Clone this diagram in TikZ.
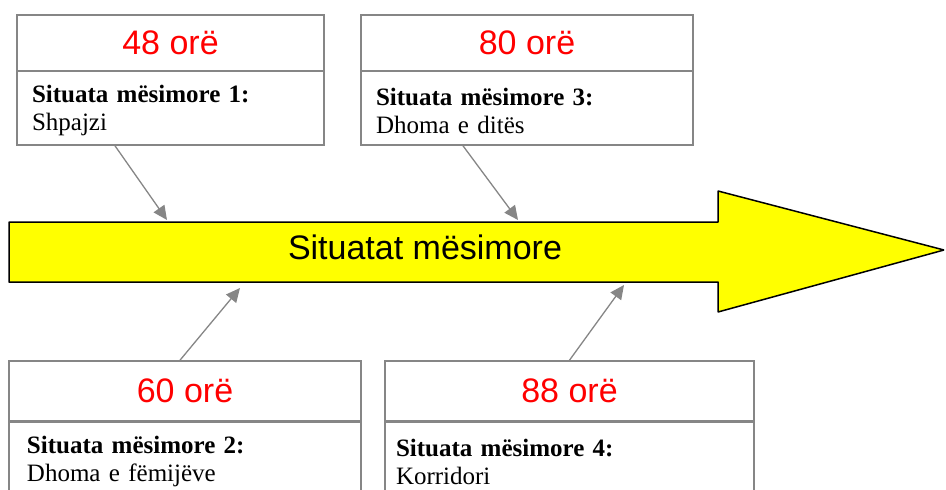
\documentclass[tikz,border=0pt]{standalone}
\usepackage{fontspec}
\setmainfont{Liberation Serif}
\newfontfamily\arialfont{Liberation Sans}
\usetikzlibrary{arrows.meta}
\definecolor{rahmen}{RGB}{134,134,134}
\definecolor{pfeilgelb}{RGB}{255,255,0}

\begin{document}
\begin{tikzpicture}[x=1pt,y=-1pt,
  orebox/.style={draw=rahmen,line width=1.6pt,minimum width=#1,text=red,inner sep=0pt,
    font=\arialfont\fontsize{34}{40}\selectfont},
  sitbox/.style={draw=rahmen,line width=1.6pt,text width=#1,minimum height=74pt,align=left,
    inner xsep=15pt,inner ysep=0pt,font=\fontsize{25}{28}\selectfont,
    execute at begin node=\rule{0pt}{23pt}},
  verbind/.style={draw=rahmen,line width=1.3pt,-{Triangle[length=14pt,width=13pt]}}]
 \useasboundingbox (0,0) rectangle (946,490); %画面
 \clip (0,0) rectangle (946,490);

 % 大きい矢印
 \draw[line width=1.5pt,line join=bevel,fill=pfeilgelb]
   (9,222) -- (718,222) -- (718,191) -- (944,250) -- (718,312) -- (718,282) -- (9,282) -- cycle;
 \node[font=\arialfont\fontsize{34}{40}\selectfont] (titel) at (425,247) {Situatat mësimore};
 \coordinate (e1) at (167,220); %矢印上1
 \coordinate (e3) at (518,220); %矢印上3
 \coordinate (e2) at (240,288); %矢印下2
 \coordinate (e4) at (624,285); %矢印下4

 % 上の箱
 \node[orebox=307pt,minimum height=56pt] (ore1) at (170.5,43) {48 orë};
 \node[sitbox=277pt] (sit1) at (170.5,108) {\textbf{Situata mësimore 1:}\\Shpajzi};
 \node[orebox=332pt,minimum height=56pt] (ore3) at (527,43) {80 orë};
 \node[sitbox=302pt] (sit3) at (527,108) {\textbf{Situata mësimore 3:}\\Dhoma e ditës};

 % 下の箱
 \node[orebox=352pt,minimum height=60pt] (ore2) at (185,391) {60 orë};
 \node[sitbox=316pt,inner xsep=18pt] (sit2) at (185,459) {\textbf{Situata mësimore 2:}\\Dhoma e fëmijëve};
 \node[orebox=369pt,minimum height=60pt] (ore4) at (569.5,391) {88 orë};
 \node[sitbox=347pt,inner xsep=11pt] (sit4) at (569.5,459) {\textbf{Situata mësimore 4:}\\Korridori};

 % 線
 \coordinate (c1) at ([xshift=-55.5pt]sit1.south);
 \coordinate (c3) at ([xshift=-64pt]sit3.south);
 \coordinate (c2) at ([xshift=-5pt]ore2.north);
 \draw[verbind] (c1) -- (e1);
 \draw[verbind] (c3) -- (e3);
 \draw[verbind] (c2) -- (e2);
 \draw[verbind] (ore4.north) -- (e4);
\end{tikzpicture}
\end{document}
